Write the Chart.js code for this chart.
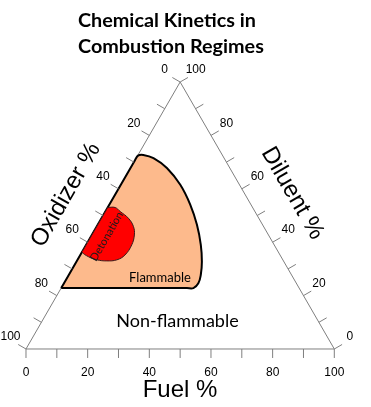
<!DOCTYPE html>
<html>
<head>
<meta charset="utf-8">
<title>Chemical Kinetics in Combustion Regimes</title>
<script src="https://cdn.jsdelivr.net/npm/chart.js@4.4.1/dist/chart.umd.min.js"></script>
<style>
  html, body { margin: 0; padding: 0; background: #fff; }
  #wrap { width: 371px; height: 407px; }
</style>
</head>
<body>
<div id="wrap"><canvas id="ternaryChart" width="371" height="407"></canvas></div>
<script>
// ternary values in % : fuel and diluent, oxidizer = 100 - fuel - diluent
const axisTicks = [0, 10, 20, 30, 40, 50, 60, 70, 80, 90, 100];
const axisLabels = [0, 20, 40, 60, 80, 100];

const triangleFuel = [0, 100, 0, 0];
const triangleDiluent = [0, 0, 100, 0];

const flammableFuel = [0, 0, 0, 0.2, 1.7, 5.6, 11.8, 19.3, 26.3, 32.2, 37.2, 40.7, 42.8, 43.6, 42.9, 40.8, 1, 0];
const flammableDiluent = [22.8, 24, 70.8, 72.5, 72.7, 71.5, 67.8, 61.5, 54.0, 46.5, 39.0, 32.7, 27.8, 24.6, 22.8, 22.8, 22.8, 22.8];

const detonationFuel = [0, 0, 0, 2.9, 6.3, 9.7, 12.8, 14.5, 14.8, 13.8, 11.9, 8.7, 4.8, 2.4, 0];
const detonationDiluent = [53, 37, 36.3, 34.6, 33.4, 33.0, 33.4, 35.2, 39.0, 42.7, 45.9, 49.0, 51.5, 53.0, 53];

const H = Math.sqrt(3) / 2;
const toXY = (fuel, diluent) => ({ x: fuel + diluent / 2, y: diluent * H });
const toPoints = (fuel, diluent) => fuel.map((f, i) => toXY(f, diluent[i]));

// ticks, labels and titles of the three axes
const ternaryText = {
    id: 'ternaryText',
    afterDatasetsDraw(chart) {
        const { ctx, scales: { x, y } } = chart;
        const px = (f, d) => {
            const p = toXY(f, d);
            return [x.getPixelForValue(p.x), y.getPixelForValue(p.y)];
        };
        const at = (cx, cy) => [x.getPixelForValue(cx), y.getPixelForValue(cy)];
        const cos30 = Math.cos(Math.PI / 6);
        const len = 9;

        ctx.save();
        ctx.strokeStyle = '#7f7f7f';
        ctx.lineWidth = 1;
        ctx.beginPath();
        axisTicks.forEach(v => {
            let [a, b] = px(v, 0);
            ctx.moveTo(a, b); ctx.lineTo(a, b + len);
            [a, b] = px(0, 100 - v);
            ctx.moveTo(a, b); ctx.lineTo(a - len * cos30, b - len * 0.5);
            [a, b] = px(100 - v, v);
            ctx.moveTo(a, b); ctx.lineTo(a + len * cos30, b - len * 0.5);
        });
        ctx.stroke();

        ctx.fillStyle = '#000';
        ctx.font = '12px "Liberation Sans", Arial, sans-serif';
        ctx.textAlign = 'center';
        ctx.textBaseline = 'alphabetic';
        axisLabels.forEach(v => {
            let [a, b] = px(v, 0);
            ctx.fillText(String(v), a, b + 27.5);
            [a, b] = px(0, 100 - v);
            ctx.fillText(String(v), a - 15.5, b - 8.7);
            [a, b] = px(100 - v, v);
            ctx.fillText(String(v), a + 15.5, b - 8.7);
        });

        // axis titles
        ctx.font = '24px "Liberation Sans", Arial, sans-serif';
        let [a, b] = at(49.95, -15.47);
        ctx.fillText('Fuel %', a, b);

        ctx.textBaseline = 'middle';
        [a, b] = at(12.97, 49.95);
        ctx.save();
        ctx.translate(a, b);
        ctx.rotate(-Math.PI / 3);
        ctx.fillText('Oxidizer %', 0, 0);
        ctx.restore();

        [a, b] = at(86.44, 50.5);
        ctx.save();
        ctx.translate(a, b);
        ctx.rotate(Math.PI / 3);
        ctx.fillText('Diluent %', 0, 0);
        ctx.restore();

        // region names
        ctx.font = '11px Lato, sans-serif';
        ctx.fillStyle = '#1a1a1a';
        [a, b] = at(26.18, 36.49);
        ctx.save();
        ctx.translate(a, b);
        ctx.rotate(-Math.PI / 3);
        ctx.fillText('Detonation', 0, 0);
        ctx.restore();

        ctx.fillStyle = '#000';
        ctx.textBaseline = 'alphabetic';
        ctx.font = '13px Lato, sans-serif';
        [a, b] = at(43.46, 21.83);
        ctx.fillText('Flammable', a, b);

        ctx.font = '18px Lato, sans-serif';
        [a, b] = at(49.14, 7.23);
        ctx.fillText('Non-flammable', a, b);

        // title
        ctx.font = 'bold 19.8px Lato, sans-serif';
        ctx.textAlign = 'left';
        ctx.fillText('Chemical Kinetics in', 78, 26.7);
        ctx.fillText('Combustion Regimes', 78, 52.7);
        ctx.restore();
    }
};

const ctx = document.getElementById('ternaryChart').getContext('2d');

new Chart(ctx, {
    type: 'scatter',
    data: {
        datasets: [
            {
                label: 'Detonation',
                data: toPoints(detonationFuel, detonationDiluent),
                showLine: true,
                borderColor: '#3a1a1a',
                borderWidth: 1,
                backgroundColor: '#ff0000',
                fill: 'shape',
                tension: 0.4,
                pointRadius: 0,
                order: 1
            },
            {
                label: 'Flammable',
                data: toPoints(flammableFuel, flammableDiluent),
                showLine: true,
                borderColor: '#000000',
                borderWidth: 2,
                backgroundColor: '#fdba8c',
                fill: 'shape',
                tension: 0.4,
                pointRadius: 0,
                order: 2
            },
            {
                label: 'Triangle',
                data: toPoints(triangleFuel, triangleDiluent),
                showLine: true,
                borderColor: '#7f7f7f',
                borderWidth: 1,
                fill: false,
                tension: 0,
                pointRadius: 0,
                order: 3
            }
        ]
    },
    options: {
        responsive: false,
        animation: false,
        layout: { padding: 0 },
        plugins: {
            legend: { display: false },
            tooltip: { enabled: false }
        },
        scales: {
            x: { type: 'linear', display: false, bounds: 'data', min: -8.433, max: 111.904 },
            y: { type: 'linear', display: false, bounds: 'data', min: -18.813, max: 113.2 }
        }
    },
    plugins: [ternaryText]
});
</script>
</body>
</html>
